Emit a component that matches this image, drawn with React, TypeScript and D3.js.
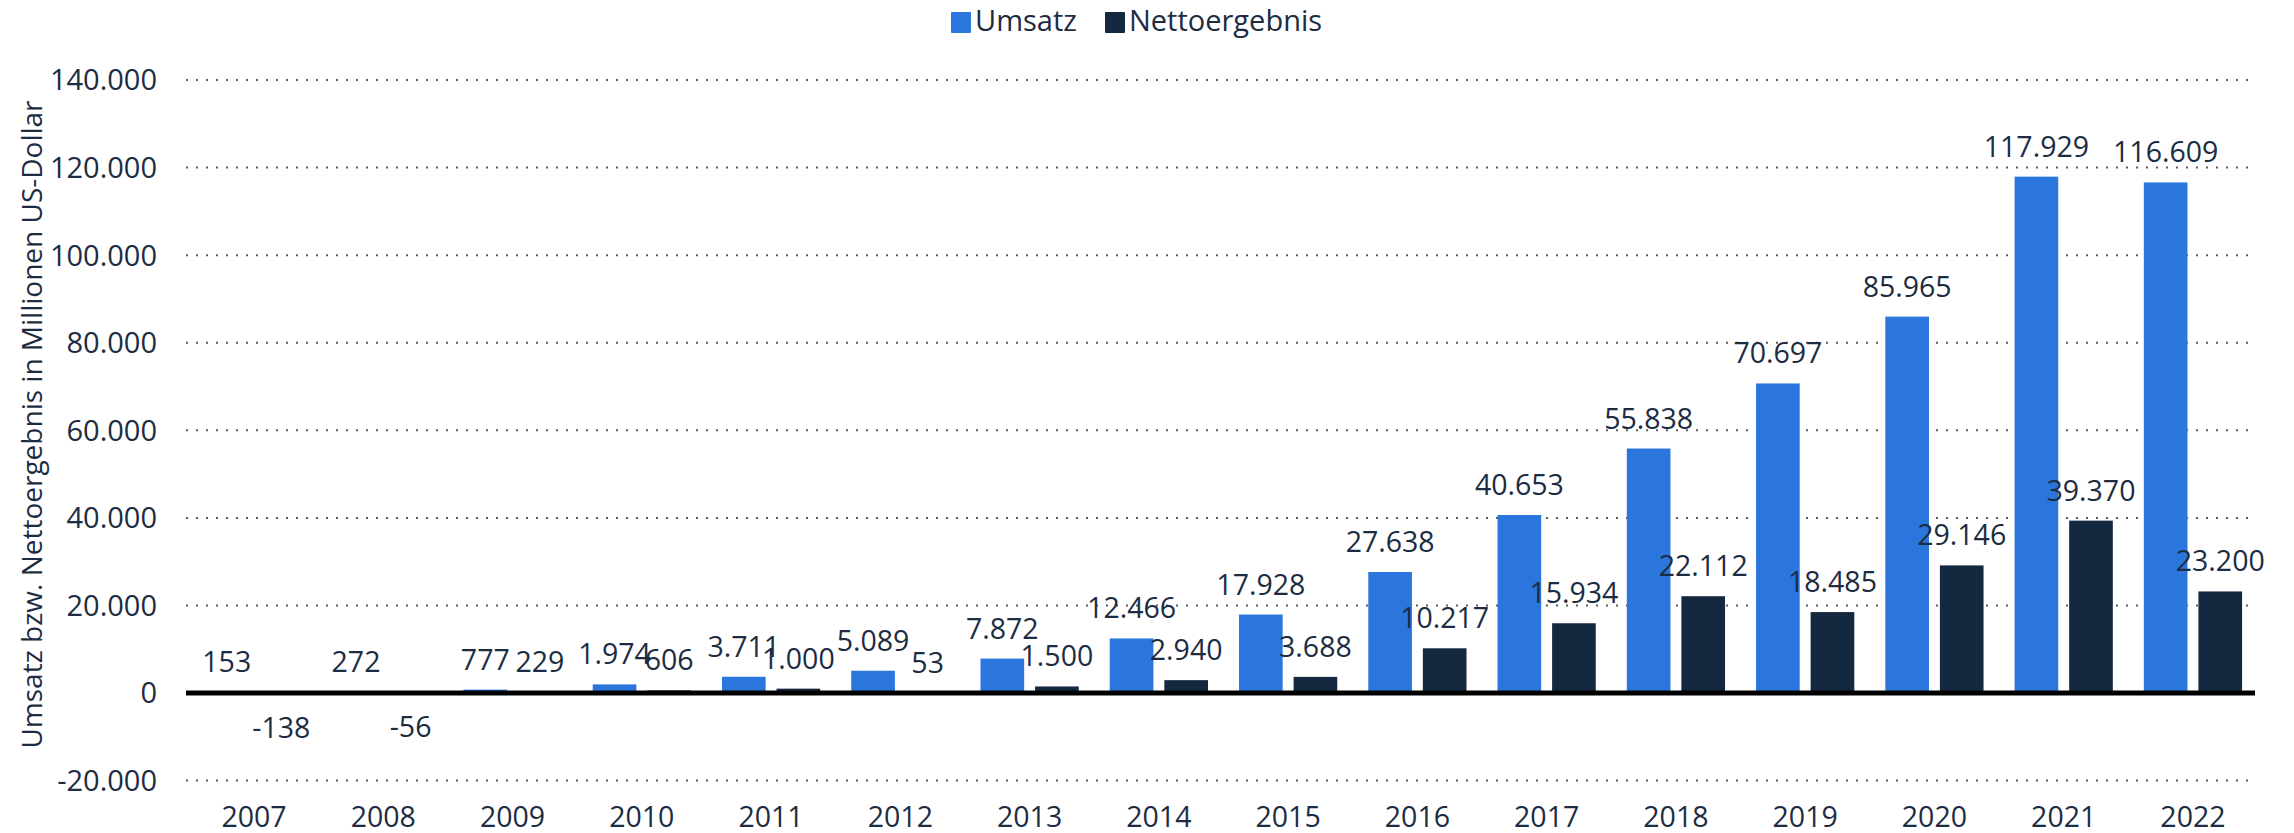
import React from "react";
import * as d3 from "d3";

const years = ["2007","2008","2009","2010","2011","2012","2013","2014","2015","2016","2017","2018","2019","2020","2021","2022"];
const umsatz = [153, 272, 777, 1974, 3711, 5089, 7872, 12466, 17928, 27638, 40653, 55838, 70697, 85965, 117929, 116609];
const netto = [-138, -56, 229, 606, 1000, 53, 1500, 2940, 3688, 10217, 15934, 22112, 18485, 29146, 39370, 23200];
const yTicks = [-20000, 0, 20000, 40000, 60000, 80000, 100000, 120000, 140000];
const seriesNames = ["Umsatz", "Nettoergebnis"];
const seriesColors = ["#2a76dd", "#14283f"];

const W = 2294, H = 833;
const FONT = "'Open Sans', sans-serif";
const TXT = "#1c2c42";

const locale = d3.formatLocale({ decimal: ",", thousands: ".", grouping: [3], currency: ["", "€"], minus: "-" });
const fmt = locale.format(",d");

export default function App() {
  const gridLeft = 186, gridRight = 2255;
  const y = d3.scaleLinear().domain([-20000, 140000]).range([780.6, 80]);
  const x0 = d3.scaleBand<string>().domain(years).range([192, 2255]).paddingInner(0.24).paddingOuter(0.1);
  const x1 = d3.scaleBand<string>().domain(seriesNames).range([0, x0.bandwidth()]).paddingInner(0.2);
  const data = [umsatz, netto];

  return (
    <svg width={W} height={H} style={{ position: "absolute", left: 0, top: 0, background: "#fff" }} fontFamily={FONT}>
      {/* legend */}
      <g>
        <rect x={951} y={12} width={20} height={21} fill={seriesColors[0]} rx={1} />
        <text x={975} y={31} fontSize={29} fill={TXT}>{seriesNames[0]}</text>
        <rect x={1105} y={12} width={20} height={21} fill={seriesColors[1]} rx={1} />
        <text x={1129} y={31} fontSize={29} fill={TXT}>{seriesNames[1]}</text>
      </g>
      {/* grid */}
      {yTicks.filter(t => t !== 0).map(t => (
        <line key={t} x1={gridLeft} x2={gridRight} y1={y(t)} y2={y(t)} stroke="#5e5e5e" strokeWidth={2} strokeDasharray="2 8" />
      ))}
      {yTicks.map(t => (
        <text key={"t" + t} x={157} y={y(t)} dy="0.36em" textAnchor="end" fontSize={29} fill={TXT}>{fmt(t)}</text>
      ))}
      <text transform={`translate(42, 424.5) rotate(-90)`} textAnchor="middle" fontSize={28} fill={TXT}>
        Umsatz bzw. Nettoergebnis in Millionen US-Dollar
      </text>
      {/* bars */}
      {years.map((yr, i) => (
        <g key={yr} transform={`translate(${x0(yr)},0)`}>
          {seriesNames.map((s, k) => {
            const v = data[k][i];
            const top = Math.min(y(v), y(0));
            const h = Math.abs(y(v) - y(0));
            return <rect key={s} x={x1(s)} y={top} width={x1.bandwidth()} height={h} fill={seriesColors[k]} />;
          })}
        </g>
      ))}
      <line x1={gridLeft} x2={gridRight} y1={y(0)} y2={y(0)} stroke="#000" strokeWidth={5} />
      {/* value labels */}
      {years.map((yr, i) => (
        <g key={"l" + yr} transform={`translate(${x0(yr)},0)`}>
          {seriesNames.map((s, k) => {
            const v = data[k][i];
            const cx = (x1(s) as number) + x1.bandwidth() / 2;
            const ly = v >= 0 ? y(v) - 20 : y(v) + 44;
            return <text key={s} x={cx} y={ly} textAnchor="middle" fontSize={28.5} fill={TXT}>{fmt(v)}</text>;
          })}
        </g>
      ))}
      {/* x labels */}
      {years.map(yr => (
        <text key={"x" + yr} x={(x0(yr) as number) + x0.bandwidth() / 2} y={827} textAnchor="middle" fontSize={28.5} fill={TXT}>{yr}</text>
      ))}
    </svg>
  );
}
